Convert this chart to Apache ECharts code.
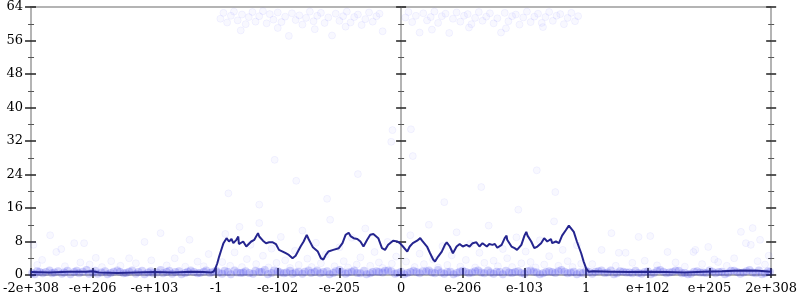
<!DOCTYPE html>
<html><head><meta charset="utf-8">
<script src="https://cdn.jsdelivr.net/npm/echarts@6/dist/echarts.min.js"></script>
<style>html,body{margin:0;padding:0;background:#fff}#c{width:800px;height:300px}</style>
</head><body><div id="c"></div>
<script>
const tickLabels = ['-2e+308','-e+206','-e+103','-1','-e-102','-e-205','0','e-206','e-103','1','e+102','e+205','2e+308'];
const yTicks = [0, 8, 16, 24, 32, 40, 48, 56, 64];

const lineX = [-6.0,-5.7,-5.4,-5.1,-5.0,-4.9,-4.6,-4.3,-4.0,-3.7,-3.4,-3.2,-3.08,-3.04,-3.01,-2.98,-2.95,-2.92,-2.88,-2.83,-2.79,-2.75,-2.72,-2.67,-2.64,-2.63,-2.56,-2.51,-2.48,-2.43,-2.38,-2.32,-2.30,-2.24,-2.19,-2.14,-2.08,-2.03,-1.98,-1.92,-1.87,-1.82,-1.76,-1.71,-1.63,-1.58,-1.53,-1.50,-1.43,-1.35,-1.30,-1.26,-1.22,-1.18,-1.10,-1.01,-0.95,-0.90,-0.85,-0.82,-0.77,-0.71,-0.66,-0.61,-0.55,-0.50,-0.45,-0.42,-0.37,-0.31,-0.26,-0.21,-0.13,-0.06,-0.02,0.03,0.10,0.14,0.19,0.26,0.31,0.34,0.35,0.42,0.47,0.52,0.55,0.60,0.66,0.71,0.74,0.79,0.84,0.90,0.95,1.00,1.06,1.11,1.16,1.22,1.27,1.32,1.39,1.43,1.48,1.52,1.56,1.63,1.68,1.71,1.72,1.79,1.84,1.88,1.95,2.00,2.03,2.05,2.11,2.16,2.21,2.27,2.32,2.35,2.37,2.43,2.45,2.51,2.56,2.61,2.67,2.72,2.75,2.80,2.85,2.92,2.96,3.00,3.04,3.12,3.4,3.7,4.0,4.3,4.6,4.9,5.2,5.5,5.8,6.0];
const lineY = [0.7,0.6,0.8,0.8,0.9,0.6,0.5,0.6,0.7,0.6,0.8,0.7,0.6,0.8,1.6,2.8,4.4,5.8,7.6,8.8,8.0,8.6,7.6,8.4,9.2,7.4,8.0,6.8,7.1,8.0,8.4,10.0,9.2,8.2,7.6,7.8,7.8,7.4,6.0,5.6,5.2,4.8,4.0,4.6,6.8,8.0,9.6,8.6,6.6,5.6,4.0,3.7,4.8,5.6,6.0,6.4,7.6,9.6,10.1,9.3,8.8,8.6,8.0,6.8,8.4,9.6,9.8,9.6,8.8,6.4,6.0,7.2,8.2,8.0,7.6,6.8,5.6,6.8,7.6,8.2,8.8,8.2,8.5,6.8,5.2,3.7,3.2,4.4,5.6,7.2,7.8,6.8,5.2,6.8,7.4,6.8,7.2,6.8,7.6,7.8,6.8,7.6,6.8,7.4,7.2,7.4,6.5,7.2,8.8,9.4,8.4,6.8,6.4,6.0,7.2,9.4,10.3,9.4,8.0,6.4,6.8,7.6,8.8,9.2,8.0,8.6,7.6,8.0,7.6,9.4,10.7,11.8,11.5,10.3,8.0,5.2,3.2,1.6,0.8,0.9,0.8,0.7,0.8,0.7,0.6,0.8,0.9,1.1,1.0,0.8];

const bandPoints = [[-5.98,0.5],[-5.9,0.9],[-5.81,0.4],[-5.7,1.1],[-5.62,0.6],[-5.5,0.3],[-5.41,1.0],[-5.3,0.7],[-5.22,0.4],[-5.1,1.2],[-5.0,0.6],[-4.92,0.3],[-4.8,0.9],[-4.71,0.5],[-4.6,1.1],[-4.5,0.4],[-4.41,0.8],[-4.3,0.3],[-4.2,1.0],[-4.1,0.6],[-4.02,0.4],[-3.9,1.2],[-3.8,0.7],[-3.71,0.3],[-3.6,0.9],[-3.5,0.5],[-3.41,1.1],[-3.3,0.4],[-3.2,0.8],[-3.1,0.5],[-3.0,1.0],[-2.9,0.3],[-2.81,0.7],[-2.7,1.1],[-2.6,0.5],[-2.52,0.9],[-2.4,0.3],[-2.3,0.8],[-2.21,1.2],[-2.1,0.5],[-2.0,0.9],[-1.9,0.4],[-1.8,1.0],[-1.71,0.6],[-1.6,0.3],[-1.5,1.1],[-1.4,0.7],[-1.31,0.4],[-1.2,0.9],[-1.1,0.5],[-1.0,1.2],[-0.9,0.3],[-0.8,0.8],[-0.71,0.5],[-0.6,1.0],[-0.5,0.4],[-0.4,0.9],[-0.3,0.6],[-0.21,1.1],[-0.1,0.3],[0.0,0.8],[0.1,0.5],[0.2,1.0],[0.3,0.4],[0.41,0.9],[0.5,0.6],[0.6,1.2],[0.7,0.3],[0.8,0.8],[0.9,0.5],[1.0,1.0],[1.1,0.4],[1.2,0.9],[1.3,0.6],[1.41,1.1],[1.5,0.3],[1.6,0.7],[1.7,1.0],[1.8,0.5],[1.9,0.9],[2.0,0.3],[2.1,1.1],[2.2,0.6],[2.3,0.4],[2.4,0.9],[2.5,0.5],[2.6,1.2],[2.7,0.4],[2.8,0.8],[2.9,0.6],[3.0,1.0],[3.1,0.3],[3.2,0.9],[3.3,0.5],[3.4,1.1],[3.5,0.4],[3.6,0.8],[3.7,0.6],[3.8,1.0],[3.9,0.3],[4.0,0.9],[4.1,0.5],[4.2,1.2],[4.3,0.4],[4.4,0.7],[4.5,1.0],[4.6,0.5],[4.7,0.3],[4.8,0.9],[4.9,0.6],[5.0,1.1],[5.1,0.4],[5.2,0.8],[5.3,0.5],[5.4,1.0],[5.5,0.3],[5.6,0.9],[5.7,0.6],[5.8,1.1],[5.9,0.4],[5.98,0.7],
[-5.94,0.2],[-5.76,0.7],[-5.56,0.9],[-5.36,0.2],[-5.16,0.8],[-4.96,1.0],[-4.76,0.2],[-4.56,0.7],[-4.36,1.1],[-4.16,0.2],[-3.96,0.6],[-3.76,1.0],[-3.56,0.2],[-3.36,0.7],[-3.16,1.1],[-2.96,0.6],[-2.76,0.2],[-2.56,0.6],[-2.36,1.0],[-2.16,0.2],[-1.96,0.6],[-1.76,0.3],[-1.56,0.8],[-1.36,1.1],[-1.16,0.2],[-0.96,0.7],[-0.76,1.1],[-0.56,0.2],[-0.36,0.7],[-0.16,0.9],[0.05,0.2],[0.25,0.7],[0.45,1.1],[0.65,0.6],[0.85,0.2],[1.05,0.7],[1.25,1.1],[1.45,0.6],[1.65,0.2],[1.85,0.7],[2.05,0.9],[2.25,0.2],[2.45,0.7],[2.65,0.8],[2.85,0.2],[3.05,0.7],[3.25,1.1],[3.45,0.2],[3.65,0.6],[3.85,0.5],[4.05,0.2],[4.25,0.8],[4.45,1.1],[4.65,0.2],[4.85,0.6],[5.05,0.8],[5.25,0.2],[5.45,0.7],[5.65,1.2],[5.85,0.2],
[-5.86,0.7],[-5.66,0.4],[-5.46,0.6],[-5.26,1.0],[-5.06,0.3],[-4.86,0.6],[-4.66,0.8],[-4.46,0.5],[-4.26,0.7],[-4.06,0.9],[-3.86,0.4],[-3.66,0.7],[-3.46,0.8],[-3.26,0.5],[-3.06,0.7],[-2.86,1.0],[-2.66,0.6],[-2.46,0.5],[-2.26,0.7],[-2.06,1.1],[-1.86,0.6],[-1.66,0.8],[-1.46,0.5],[-1.26,0.7],[-1.06,0.9],[-0.86,0.6],[-0.66,0.4],[-0.46,0.7],[-0.26,1.0],[-0.06,0.5],[0.15,0.7],[0.35,0.9],[0.55,0.4],[0.75,0.7],[0.95,0.8],[1.15,0.6],[1.35,0.4],[1.55,0.8],[1.75,0.6],[1.95,0.5],[2.15,0.8],[2.35,0.7],[2.55,0.9],[2.75,0.6],[2.95,0.4],[3.15,0.8],[3.35,0.6],[3.55,0.9],[3.75,0.4],[3.95,0.7],[4.15,1.0],[4.35,0.6],[4.55,0.4],[4.75,0.8],[4.95,0.5],[5.15,0.7],[5.35,1.0],[5.55,0.6],[5.75,0.4],[5.95,0.9]];

const midPoints = [[-2.9,3.1],[-2.85,9.8],[-2.77,2.2],[-2.7,5.4],[-2.62,11.5],[-2.58,1.9],[-2.5,3.8],[-2.44,7.2],[-2.35,2.6],[-2.3,12.4],[-2.24,4.6],[-2.15,1.8],[-2.1,6.3],[-2.02,2.9],[-1.95,9.1],[-1.88,3.5],[-1.8,1.7],[-1.72,5.8],[-1.66,2.4],[-1.6,10.6],[-1.52,3.9],[-1.45,1.9],[-1.38,7.7],[-1.3,2.8],[-1.22,4.9],[-1.15,13.2],[-1.08,2.1],[-1.0,6.6],[-0.93,3.3],[-0.86,1.8],[-0.8,8.9],[-0.72,2.5],[-0.66,4.2],[-0.58,11.1],[-0.5,2.2],[-0.43,5.5],[-0.36,3.0],[-0.3,1.7],[-0.22,7.9],[-0.15,2.7],[-0.08,4.4],[0.08,3.2],[0.15,9.5],[0.22,1.9],[0.3,5.1],[0.37,2.6],[0.45,12.0],[0.52,3.7],[0.6,1.8],[0.67,6.9],[0.75,2.4],[0.82,4.7],[0.9,10.2],[0.96,2.0],[1.05,3.6],[1.12,7.4],[1.2,1.8],[1.27,5.3],[1.35,2.9],[1.42,11.8],[1.5,3.4],[1.57,2.1],[1.65,6.2],[1.72,4.0],[1.8,1.9],[1.87,9.0],[1.95,2.8],[2.02,5.6],[2.1,3.1],[2.18,1.8],[2.25,8.3],[2.32,2.5],[2.4,4.5],[2.48,12.8],[2.55,2.2],[2.62,6.0],[2.7,3.3],[2.78,1.9],[2.85,7.1],[2.92,2.7],
[-2.8,19.5],[-2.3,16.8],[-1.7,22.5],[-1.2,18.2],[-0.7,24.1],[-0.16,31.8],[-0.14,34.6],[0.16,34.8],[0.19,28.4],[0.7,17.4],[1.3,21.0],[1.9,15.6],[2.5,19.8],[-2.05,27.5],[2.2,25.0]];

const outerPoints = [[-5.96,7.2],[-5.9,2.4],[-5.82,3.6],[-5.69,9.5],[-5.59,5.5],[-5.51,6.2],[-5.45,2.1],[-5.3,7.6],[-5.2,3.0],[-5.14,7.6],[-5.05,2.5],[-4.95,4.1],[-4.85,1.9],[-4.7,3.3],[-4.55,2.2],[-4.41,4.0],[-4.3,2.8],[-4.16,7.9],[-4.05,3.5],[-3.9,10.0],[-3.8,2.3],[-3.67,4.0],[-3.56,6.0],[-3.5,2.0],[-3.43,8.4],[-3.3,3.2],[-3.2,2.1],[-3.12,5.0],
[3.1,2.6],[3.25,6.0],[3.41,10.0],[3.48,2.2],[3.53,5.3],[3.64,5.3],[3.75,2.9],[3.85,9.1],[3.95,3.4],[4.04,9.3],[4.15,2.3],[4.32,5.5],[4.45,3.0],[4.6,2.0],[4.74,5.5],[4.77,6.0],[4.88,2.6],[4.98,6.7],[5.08,3.7],[5.14,3.1],[5.28,2.2],[5.4,4.0],[5.51,10.3],[5.59,7.6],[5.67,7.2],[5.70,11.2],[5.78,3.3],[5.82,8.4],[5.9,2.5],[5.96,4.6]];

const topPoints = [[-2.93,61.2],[-2.88,62.6],[-2.82,60.3],[-2.76,61.9],[-2.71,62.9],[-2.65,60.8],[-2.58,62.2],[-2.52,59.9],[-2.47,61.6],[-2.41,62.8],[-2.36,60.5],[-2.3,61.8],[-2.24,63.0],[-2.18,60.1],[-2.13,62.3],[-2.07,61.0],[-2.0,62.7],[-1.94,60.4],[-1.88,61.7],[-1.82,57.1],[-1.77,62.5],[-1.71,60.9],[-1.65,62.0],[-1.6,59.8],[-1.54,61.4],[-1.48,62.9],[-1.42,60.6],[-1.36,61.9],[-1.3,62.6],[-1.24,60.2],[-1.18,61.5],[-1.12,57.2],[-1.06,62.4],[-1.0,60.7],[-0.94,61.8],[-0.88,62.9],[-0.82,60.3],[-0.76,61.6],[-0.7,62.2],[-0.64,59.7],[-0.58,61.1],[-0.52,62.7],[-0.46,60.5],[-0.4,61.8],[-0.35,62.4],[-2.6,58.4],[-2.0,59.0],[-1.4,58.7],[-0.9,59.3],[-0.3,58.2],
[0.07,61.5],[0.12,62.8],[0.18,60.4],[0.24,61.9],[0.3,57.9],[0.36,62.5],[0.42,60.8],[0.48,61.6],[0.54,62.9],[0.6,60.2],[0.66,61.8],[0.72,62.4],[0.78,57.8],[0.84,61.2],[0.9,62.7],[0.96,60.5],[1.02,61.9],[1.08,62.3],[1.14,59.9],[1.2,61.4],[1.26,62.8],[1.32,60.7],[1.38,61.7],[1.44,62.5],[1.5,60.1],[1.56,61.3],[1.62,57.9],[1.68,62.6],[1.74,60.6],[1.8,61.8],[1.86,62.2],[1.92,59.8],[1.98,61.5],[2.04,62.9],[2.1,60.4],[2.16,61.7],[2.22,62.4],[2.28,60.2],[2.34,61.6],[2.4,62.8],[2.46,60.7],[2.52,61.9],[2.58,62.3],[2.64,59.9],[2.7,61.4],[2.76,62.6],[2.82,60.6],[2.87,61.8],[0.5,58.6],[1.1,59.1],[1.7,58.9],[2.3,59.2]];

const FONT = 'DejaVu Serif';
const AXIS_GREY = '#b4b4b4';
const TICK = '#222';

function yAx(opts) {
  return Object.assign({
    type: 'value', min: 0, max: 64, interval: 8,
    axisLine: { show: false, onZero: false },
    axisTick: { show: true, inside: false, length: 5, lineStyle: { color: TICK, width: 1.5 } },
    minorTick: { show: true, splitNumber: 2, length: 3, lineStyle: { color: '#555', width: 1 } },
    axisLabel: { show: false },
    splitLine: { show: false }
  }, opts);
}

const chart = echarts.init(document.getElementById('c'), null, { renderer: 'canvas' });
const scatterStyle = { color: 'rgba(0,0,255,0.035)', borderColor: 'rgba(0,0,255,0.06)', borderWidth: 1 };

chart.setOption({
  animation: false,
  backgroundColor: '#fff',
  grid: { left: 28, right: 27, top: 7, bottom: 25, containLabel: false },
  xAxis: [
    { type: 'value', min: -6, max: 6, interval: 1, position: 'bottom',
      axisLine: { show: true, onZero: false, lineStyle: { color: AXIS_GREY, width: 2 } },
      axisTick: { show: true, inside: false, length: 3, lineStyle: { color: TICK, width: 1.5 } },
      axisLabel: { show: true, margin: 7, fontFamily: FONT, fontSize: 13, color: '#000',
        showMinLabel: true, showMaxLabel: true,
        formatter: v => tickLabels[Math.round(v) + 6] },
      splitLine: { show: false } },
    { type: 'value', min: -6, max: 6, interval: 1, position: 'bottom',
      axisLine: { show: false, onZero: false },
      axisTick: { show: true, inside: true, length: 7, lineStyle: { color: TICK, width: 1.5 } },
      axisLabel: { show: false }, splitLine: { show: false } },
    { type: 'value', min: -6, max: 6, interval: 1, position: 'top',
      axisLine: { show: true, onZero: false, lineStyle: { color: AXIS_GREY, width: 2 } },
      axisTick: { show: false }, axisLabel: { show: false }, splitLine: { show: false } }
  ],
  yAxis: [
    yAx({ position: 'left', axisLine: { show: true, onZero: false, lineStyle: { color: AXIS_GREY, width: 2 } },
      axisTick: { show: true, inside: false, length: 6, lineStyle: { color: TICK, width: 1.5 } },
      axisLabel: { show: true, margin: 8, fontFamily: FONT, fontSize: 13, color: '#000',
        formatter: v => (yTicks.indexOf(v) >= 0 ? String(v) : '') } }),
    yAx({ position: 'left', axisTick: { show: true, inside: true, length: 5, lineStyle: { color: TICK, width: 1.5 } } }),
    yAx({ position: 'right', axisLine: { show: true, onZero: false, lineStyle: { color: AXIS_GREY, width: 2 } } }),
    yAx({ position: 'right', axisTick: { show: true, inside: true, length: 5, lineStyle: { color: TICK, width: 1.5 } } }),
    yAx({ position: 'left', axisLine: { show: true, onZero: true, onZeroAxisIndex: 0, lineStyle: { color: AXIS_GREY, width: 2 } } }),
    yAx({ position: 'left', axisLine: { show: false, onZero: true, onZeroAxisIndex: 0 },
      axisTick: { show: true, inside: true, length: 5, lineStyle: { color: TICK, width: 1.5 } } })
  ],
  series: [
    { type: 'scatter', xAxisIndex: 0, yAxisIndex: 0, symbolSize: 8, data: bandPoints,
      itemStyle: { color: 'rgba(20,20,235,0.22)', borderWidth: 0 }, silent: true },
    { type: 'scatter', xAxisIndex: 0, yAxisIndex: 0, symbolSize: 7, data: midPoints.concat(outerPoints), itemStyle: scatterStyle, silent: true },
    { type: 'scatter', xAxisIndex: 0, yAxisIndex: 0, symbolSize: 7, data: topPoints, itemStyle: scatterStyle, silent: true },
    { type: 'line', xAxisIndex: 0, yAxisIndex: 0, showSymbol: false, symbol: 'none',
      data: lineX.map((x, i) => [x, lineY[i]]),
      lineStyle: { color: '#25258f', width: 2 }, silent: true }
  ]
});
</script></body></html>
